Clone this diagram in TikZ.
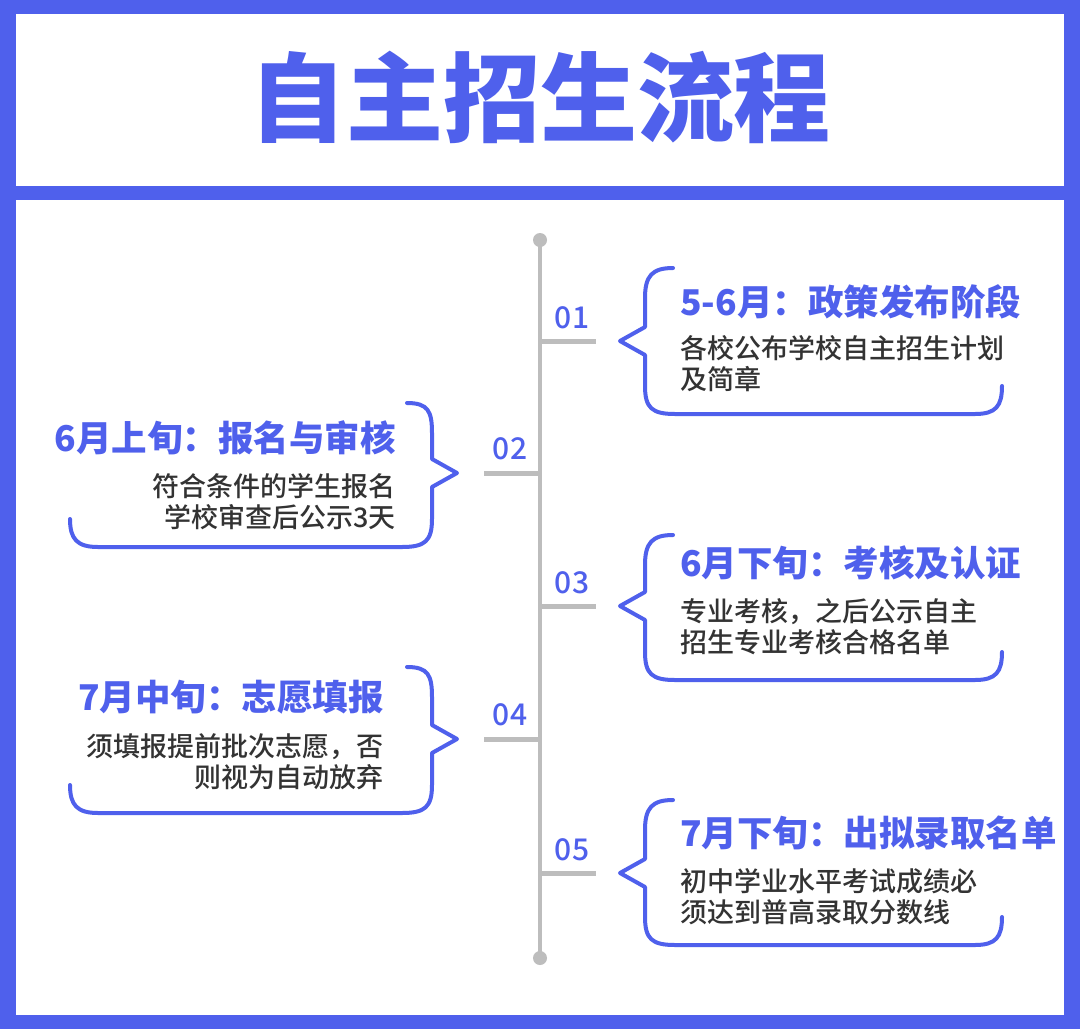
\documentclass[tikz,border=0pt]{standalone}
\usepackage{fontspec}
\setmainfont{Noto Sans CJK SC}
\newfontfamily\cjkb{Noto Sans CJK SC Black}
\newfontfamily\cjkm{Noto Sans CJK SC Medium}
\definecolor{bl}{HTML}{4F60EC}
\definecolor{gr}{HTML}{BDBDBD}
\definecolor{tx}{HTML}{333333}
\tikzset{
 brk/.style={draw=bl,line width=4pt,line cap=round,line join=round},
 ttl/.style={font=\cjkb\fontsize{35.5}{40}\selectfont,text=bl,inner sep=0pt},
 bdy/.style={font=\cjkm\fontsize{27}{31.5}\selectfont,text=tx,inner sep=0pt,align=left},
 num/.style={font=\cjkm\fontsize{30}{34}\selectfont,text=bl,inner sep=0pt},
 tick/.style={draw=gr,line width=5pt}
}
\begin{document}
\begin{tikzpicture}[x=1pt,y=-1pt]
\fill[bl] (0,0) rectangle (1080,1029);
\fill[white] (16,14) rectangle (1064,186);
\fill[white] (16,200) rectangle (1064,1015);
\node[font=\cjkb\fontsize{97}{100}\selectfont,text=bl] (title) at (540,97) {自主招生流程};
% timeline
\coordinate (ttop) at (540,240); \coordinate (tbot) at (540,958);
\draw[draw=gr,line width=4pt] (ttop) -- (tbot);
\fill[gr] (ttop) circle (7); \fill[gr] (tbot) circle (7);
\foreach \y/\n in {341/01,606/03,873/05}{
 \draw[tick] (540,\y) -- (596,\y);
 \node[num] at (572,\y-23) {\n};}
\foreach \y/\n in {473/02,739/04}{
 \draw[tick] (484,\y) -- (540,\y);
 \node[num] at (510,\y-24) {\n};}
% right brackets
\foreach \T/\M/\B in {268/341/414,535/606/680,800/873/945}{
 \draw[brk] (673,\T) .. controls (652,\T) and (645,\T+8) .. (645,\T+30) -- (645,\M-14) -- (620,\M) -- (645,\M+14) -- (645,\B-28) .. controls (645,\B-6) and (652,\B) .. (675,\B) -- (975,\B) .. controls (996,\B) and (1002,\B-8) .. (1002,\B-28);}
% left brackets
\foreach \T/\M/\B in {403/473/547,667/739/813}{
 \draw[brk] (407,\T) .. controls (428,\T) and (432,\T+8) .. (432,\T+30) -- (432,\M-14) -- (457,\M) -- (432,\M+14) -- (432,\B-28) .. controls (432,\B-6) and (425,\B) .. (402,\B) -- (98,\B) .. controls (77,\B) and (70,\B-8) .. (70,\B-28);}
\node[ttl,anchor=west] (t1) at (680,302) {5-6月：政策发布阶段};
\node[bdy,anchor=north west] (b1) at (680,335) {各校公布学校自主招生计划\\及简章};
\node[ttl,anchor=west] (t3) at (680,563) {6月下旬：考核及认证};
\node[bdy,anchor=north west] (b3) at (680,598) {专业考核，之后公示自主\\招生专业考核合格名单};
\node[ttl,anchor=west] (t5) at (680,833) {7月下旬：出拟录取名单};
\node[bdy,anchor=north west] (b5) at (680,868) {初中学业水平考试成绩必\\须达到普高录取分数线};
\node[ttl,anchor=east] (t2) at (396,438) {6月上旬：报名与审核};
\node[bdy,anchor=north east,align=right] (b2) at (396,473) {符合条件的学生报名\\学校审查后公示3天};
\node[ttl,anchor=east] (t4) at (384,697) {7月中旬：志愿填报};
\node[bdy,anchor=north east,align=right] (b4) at (384,733) {须填报提前批次志愿，否\\则视为自动放弃};
\end{tikzpicture}
\end{document}
